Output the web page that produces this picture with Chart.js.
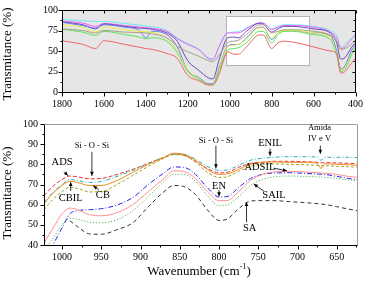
<!DOCTYPE html>
<html>
<head>
<meta charset="utf-8">
<script src="https://cdn.jsdelivr.net/npm/chart.js@4"></script>
<style>
    html, body { margin: 0; padding: 0; background: #fff; }
    #wrap { position: relative; width: 369px; height: 282px; overflow: hidden; }
    canvas { position: absolute; left: 0; }
    #top-chart { top: 0; }
    #bottom-chart { top: 112px; }
</style>
</head>
<body>
<div id="wrap">
    <canvas id="top-chart" width="369" height="112"></canvas>
    <canvas id="bottom-chart" width="369" height="170"></canvas>
</div>
<script>
// ---- Top panel: full spectra 1800-400 cm-1 ----
const topWavenumbers = [1800, 1700, 1640, 1600, 1500, 1430, 1400, 1370, 1300, 1250, 1200, 1150, 1100, 1080, 1050, 1010,
    980, 960, 920, 860, 840, 800, 770, 740, 700, 600, 520, 490, 470, 450, 420, 400];
const topCyan    = [88.5, 87, 86, 86, 83.5, 81.5, 80.5, 79.5, 75, 66, 59, 53, 40, 39, 55, 72, 73, 73.5, 78, 84, 84, 77, 80, 82, 82, 80, 75, 69, 55, 58, 66, 70];
const topMagenta = [86.5, 84, 80, 83.5, 81, 79, 78.5, 77.5, 74, 65, 58, 52, 41, 40, 56, 72, 72, 72, 77, 84, 84, 76, 79, 81, 81, 79, 73, 66, 53, 55, 64, 69];
const topPurple  = [85.5, 82, 77, 83, 80, 78, 77.5, 76.5, 72, 62, 38, 27, 17, 16, 40, 66, 67, 66, 74, 84, 83, 73, 77, 80, 80, 77, 72, 60, 40, 42, 54, 60];
const topBlue    = [85, 81, 78, 82, 79, 75, 66, 74, 70, 55, 26, 18, 10, 10, 30, 56, 58, 58, 66, 79, 79, 64, 72, 75, 75, 72, 69, 50, 28, 32, 50, 58];
const topYellow  = [82, 79, 73, 79, 76, 74, 73.5, 72.5, 66, 50, 27, 17, 9, 9, 28, 55, 57, 58, 64, 78, 78, 66, 72, 75, 75, 72, 66, 47, 26, 30, 46, 55];
const topOlive   = [77, 75, 72, 75, 73, 72.5, 72, 71, 66, 56, 49, 44, 38, 37, 45, 60, 62, 63, 70, 82, 82, 72, 74, 76, 76, 74, 69, 62, 52, 53, 58, 64];
const topGreen   = [76.5, 73, 69, 74, 70, 67, 65, 66, 62, 48, 25, 16, 9, 9, 26, 51, 53, 54, 60, 74, 74, 60, 70, 74, 74, 70, 64, 45, 25, 28, 45, 55];
const topRed     = [62.5, 58, 53, 62.5, 58, 54.5, 53, 52, 47, 41, 20, 14, 8.5, 8.5, 22, 49, 46, 46, 55, 69.5, 69.5, 53, 60, 62, 61, 55, 50, 47, 23, 25, 35, 41];
const topXTicks = [1800, 1600, 1400, 1200, 1000, 800, 600, 400];
const topYTicks = [0, 25, 50, 75, 100];

// ---- Bottom panel: zoom 1023-623 cm-1 ----
const bottomWavenumbers = [1023, 1012, 1000, 990, 980, 965, 950, 930, 910, 890, 870, 858, 845, 830, 815, 800,
    790, 775, 760, 745, 730, 710, 690, 675, 670, 665, 650, 635, 623];
const ads   = [64.5, 69, 72.5, 74.2, 73.8, 72.8, 73, 75, 77.5, 80.5, 83.5, 85, 84.5, 81.5, 78, 75.8, 76, 78.5, 80.5, 81, 81.5, 81.5, 81.3, 81, 80.8, 80.8, 80.7, 80.5, 80.3];
const enil  = [61, 66, 70, 72.4, 72, 71, 71.5, 74, 77, 80.5, 83.5, 85, 85, 82.5, 79, 77, 77.2, 79.5, 82, 83, 83.5, 83.8, 83.8, 83.5, 82, 83.5, 83.5, 83.5, 83.3];
const cbil  = [60.5, 65.5, 69.5, 71.6, 71, 69.5, 69.5, 72, 76, 80, 83.5, 85.5, 85, 82, 77.5, 75, 75.2, 77.5, 80, 81, 81.2, 81, 81, 80.5, 78, 80.3, 80, 79.8, 79.5];
const cb    = [57.5, 62.5, 66.5, 68.6, 68, 66.3, 66.5, 70, 74.5, 79, 83, 84.8, 84.5, 81, 76, 73.5, 73.8, 76.5, 79, 80, 80.2, 80, 79.8, 79.5, 79.3, 79.3, 79, 78.8, 78.6];
const adsil = [41, 48, 55.5, 58.3, 57.5, 55, 54.5, 56, 60, 66.5, 73, 76.8, 76.5, 73, 66.5, 62, 62, 66.5, 72, 75, 76.2, 76.5, 76.2, 75.8, 75.7, 75.6, 75, 74, 73.5];
const en    = [34, 40, 48.5, 55.5, 57, 57.5, 58, 59.8, 63.5, 70, 75.8, 78.7, 78.5, 75, 68.5, 63.8, 64, 68.5, 73, 75, 75.7, 75.8, 75.5, 75.2, 75.1, 75, 74, 73, 72.3];
const sail  = [37, 43, 50, 53.2, 52.8, 51.3, 51, 52.5, 57, 64, 71.5, 75, 75, 71.5, 64.5, 59.5, 59.8, 64, 69.5, 72.5, 73.8, 74.2, 74, 73.8, 73.7, 73.6, 73, 72.3, 72];
const sa    = [null, null, null, 52, 49, 45.5, 45.3, 47.6, 51, 59, 66.5, 69.5, 69, 65, 57.5, 52.2, 52.8, 58, 61.8, 62, 62, 61.5, 61, 60.5, 60.3, 60.1, 59, 57.8, 57];
const bottomXTicks = [1000, 950, 900, 850, 800, 750, 700, 650];
const bottomYTicks = [40, 50, 60, 70, 80, 90, 100];

// Labels with arrows (data coordinates of the bottom panel)
const bottomNotes = [
    { text: 'Si - O - Si', x: 962, y: 89.2, size: 8.5 },
    { text: 'ADS', x: 1000, y: 80.8, size: 10.5 },
    { text: 'CBIL', x: 989, y: 63.3, size: 10.5 },
    { text: 'CB', x: 948, y: 64.5, size: 10.5 },
    { text: 'Si - O - Si', x: 804, y: 91.6, size: 8.5 },
    { text: 'ENIL', x: 735, y: 90.6, size: 10.5 },
    { text: 'Amida', x: 672, y: 97.9, size: 8.5 },
    { text: 'IV e V', x: 672, y: 92.9, size: 8.5 },
    { text: 'ADSIL', x: 748, y: 78.5, size: 10.5 },
    { text: 'EN', x: 800, y: 69.2, size: 10.5 },
    { text: 'SAIL', x: 730, y: 64.8, size: 10.5 },
    { text: 'SA', x: 761, y: 48.2, size: 10.5 }
];
const bottomArrows = [
    { from: [962, 86.2], to: [962, 74.3] },
    { from: [997.5, 76.4], to: [992.5, 74.4] },
    { from: [989, 66.8], to: [989, 71.2] },
    { from: [953, 67.3], to: [960.3, 69.4] },
    { from: [804, 89.3], to: [804, 78] },
    { from: [735, 87.8], to: [735, 84.2] },
    { from: [671, 89.3], to: [671, 85.2] },
    { from: [730.4, 78.1], to: [713.5, 76.8] },
    { from: [800, 67.3], to: [800, 64.2] },
    { from: [743, 66.8], to: [755.8, 70.2] },
    { from: [765, 51.3], to: [765, 61.3] }
];

// highlighted region drawn on the top panel
const zoomBox = { xFrom: 1020, xTo: 622, yFrom: 32.6, yTo: 93 };

Chart.defaults.font.family = "'Liberation Serif', 'Times New Roman', serif";
Chart.defaults.font.size = 10;
Chart.defaults.color = '#000';

function toPoints(xs, ys) {
    return xs.map((x, i) => ({ x: x, y: ys[i] }));
}

function minorValues(majors, min, max) {
    const step = Math.abs(majors[1] - majors[0]) / 2;
    const out = [];
    for (let v = Math.ceil(min / step) * step; v <= max + 1e-9; v += step) {
        if (!majors.includes(v)) out.push(v);
    }
    return out;
}

function line(ctx, x1, y1, x2, y2) {
    ctx.beginPath();
    ctx.moveTo(x1, y1);
    ctx.lineTo(x2, y2);
    ctx.stroke();
}

// draw tick marks by hand so minor ticks can be shorter
function drawTicks(chart, opts) {
    const { ctx, chartArea: a, scales } = chart;
    const xs = scales.x, ys = scales.y;
    ctx.save();
    ctx.lineWidth = 1;
    ctx.strokeStyle = '#000';
    const xMinor = minorValues(opts.xTicks, xs.min, xs.max);
    const yMinor = minorValues(opts.yTicks, ys.min, ys.max);
    const b = Math.round(a.bottom) + 0.5, l = Math.round(a.left) + 0.5;
    const t = Math.round(a.top) + 0.5, r = Math.round(a.right) - 0.5;
    opts.xTicks.forEach(v => {
        const px = Math.round(xs.getPixelForValue(v)) + 0.5;
        line(ctx, px, b, px, b + 4);
        if (opts.mirror) line(ctx, px, t, px, t + 3);
    });
    xMinor.forEach(v => {
        const px = Math.round(xs.getPixelForValue(v)) + 0.5;
        line(ctx, px, b, px, b + 2);
        if (opts.mirror) line(ctx, px, t, px, t + 3);
    });
    opts.yTicks.forEach(v => {
        const py = Math.round(ys.getPixelForValue(v)) + 0.5;
        line(ctx, l, py, l - 4, py);
        if (opts.mirror) line(ctx, r, py, r - 3, py);
    });
    yMinor.forEach(v => {
        const py = Math.round(ys.getPixelForValue(v)) + 0.5;
        line(ctx, l, py, l - 2, py);
        if (opts.mirror) line(ctx, r, py, r - 2, py);
    });
    // frame
    ctx.strokeStyle = opts.frameColor;
    line(ctx, l, t, r, t);
    line(ctx, r, t, r, b);
    ctx.strokeStyle = '#000';
    line(ctx, l, t, l, b);
    line(ctx, l, b, r, b);
    ctx.restore();
}

function drawYTitle(ctx, x, y, size) {
    ctx.save();
    ctx.translate(x, y);
    ctx.rotate(-Math.PI / 2);
    ctx.font = size + "px 'Liberation Serif', serif";
    ctx.fillStyle = '#000';
    ctx.textAlign = 'center';
    ctx.textBaseline = 'middle';
    ctx.fillText('Transmitance (%)', 0, 0);
    ctx.restore();
}

function drawArrow(ctx, x1, y1, x2, y2) {
    line(ctx, x1, y1, x2, y2);
    const ang = Math.atan2(y2 - y1, x2 - x1), L = 4, W = 1.8;
    ctx.beginPath();
    ctx.moveTo(x2, y2);
    ctx.lineTo(x2 - L * Math.cos(ang) + W * Math.sin(ang), y2 - L * Math.sin(ang) - W * Math.cos(ang));
    ctx.lineTo(x2 - L * Math.cos(ang) - W * Math.sin(ang), y2 - L * Math.sin(ang) + W * Math.cos(ang));
    ctx.closePath();
    ctx.fill();
}

function makeSet(xs, ys, color, dash) {
    return {
        data: toPoints(xs, ys),
        borderColor: color,
        borderWidth: 1,
        borderDash: dash || [],
        pointRadius: 0,
        fill: false,
        cubicInterpolationMode: 'monotone'
    };
}

function axisOptions(min, max, ticks, fitProp, fitSize, pad, reverse) {
    return {
        type: 'linear',
        min: min,
        max: max,
        reverse: !!reverse,
        grid: { display: false, drawTicks: false },
        border: { display: false },
        ticks: {
            padding: pad, maxRotation: 0, autoSkip: false, font: { size: 10 },
            callback: (v) => String(v)
        },
        afterBuildTicks: (scale) => { scale.ticks = ticks.map(v => ({ value: v })); },
        afterFit: (scale) => { scale[fitProp] = fitSize; }
    };
}

// ---- Top chart ----
const topPanelPlugin = {
    id: 'topPanel',
    beforeDatasetsDraw(chart) {
        const { ctx, chartArea: a, scales } = chart;
        ctx.save();
        ctx.fillStyle = '#e6e6e6';
        ctx.fillRect(a.left, a.top, a.right - a.left, a.bottom - a.top);
        const x1 = Math.round(scales.x.getPixelForValue(zoomBox.xFrom)) + 0.5;
        const x2 = Math.round(scales.x.getPixelForValue(zoomBox.xTo)) + 0.5;
        const y1 = Math.round(scales.y.getPixelForValue(zoomBox.yTo)) + 0.5;
        const y2 = Math.round(scales.y.getPixelForValue(zoomBox.yFrom)) + 0.5;
        ctx.fillStyle = '#fff';
        ctx.fillRect(x1, y1, x2 - x1, y2 - y1);
        ctx.strokeStyle = '#b4b4b4';
        ctx.lineWidth = 1;
        ctx.strokeRect(x1, y1, x2 - x1, y2 - y1);
        ctx.restore();
    },
    afterDraw(chart) {
        drawTicks(chart, { xTicks: topXTicks, yTicks: topYTicks, mirror: true, frameColor: '#000' });
        drawYTitle(chart.ctx, 8, 54, 13);
    }
};

new Chart(document.getElementById('top-chart'), {
    type: 'line',
    data: {
        datasets: [
            makeSet(topWavenumbers, topOlive, '#a89f86'),
            makeSet(topWavenumbers, topRed, '#f26464'),
            makeSet(topWavenumbers, topGreen, '#5ee05e'),
            makeSet(topWavenumbers, topYellow, '#eeee4a'),
            makeSet(topWavenumbers, topBlue, '#6a78ec'),
            makeSet(topWavenumbers, topPurple, '#6a4cb8'),
            makeSet(topWavenumbers, topMagenta, '#f45cf4'),
            makeSet(topWavenumbers, topCyan, '#6ee8f8')
        ]
    },
    options: {
        responsive: false,
        animation: false,
        devicePixelRatio: 1,
        layout: { padding: { top: 6, right: 11, bottom: 0, left: 0 } },
        plugins: { legend: { display: false }, tooltip: { enabled: false } },
        scales: {
            x: axisOptions(400, 1800, topXTicks, 'height', 20, 6, true),
            y: axisOptions(0, 100, topYTicks, 'width', 62, 4)
        }
    },
    plugins: [topPanelPlugin]
});

// ---- Bottom chart ----
const bottomPanelPlugin = {
    id: 'bottomPanel',
    afterDraw(chart) {
        const { ctx, scales } = chart;
        drawTicks(chart, { xTicks: bottomXTicks, yTicks: bottomYTicks, mirror: false, frameColor: '#9c9c9c' });
        drawYTitle(ctx, 8, 81, 13);

        // x axis title with superscript
        ctx.save();
        ctx.fillStyle = '#000';
        ctx.textBaseline = 'alphabetic';
        ctx.textAlign = 'left';
        const big = "13px 'Liberation Serif', serif", small = "8px 'Liberation Serif', serif";
        ctx.font = big;
        const w1 = ctx.measureText('Wavenumber (cm').width, w3 = ctx.measureText(')').width;
        ctx.font = small;
        const w2 = ctx.measureText('-1').width;
        let x = 199 - (w1 + w2 + w3) / 2;
        const base = 163;
        ctx.font = big; ctx.fillText('Wavenumber (cm', x, base); x += w1;
        ctx.font = small; ctx.fillText('-1', x, base - 6); x += w2;
        ctx.font = big; ctx.fillText(')', x, base);

        // labels and arrows
        ctx.strokeStyle = '#000';
        ctx.lineWidth = 0.8;
        bottomArrows.forEach(a => {
            drawArrow(ctx,
                scales.x.getPixelForValue(a.from[0]), scales.y.getPixelForValue(a.from[1]),
                scales.x.getPixelForValue(a.to[0]), scales.y.getPixelForValue(a.to[1]));
        });
        ctx.textAlign = 'center';
        ctx.textBaseline = 'middle';
        bottomNotes.forEach(n => {
            ctx.font = n.size + "px 'Liberation Serif', serif";
            ctx.fillText(n.text, scales.x.getPixelForValue(n.x), scales.y.getPixelForValue(n.y));
        });
        ctx.restore();
    }
};

new Chart(document.getElementById('bottom-chart'), {
    type: 'line',
    data: {
        datasets: [
            makeSet(bottomWavenumbers, sa, '#333333', [4, 3]),
            makeSet(bottomWavenumbers, sail, '#3aa53a', [1, 2]),
            makeSet(bottomWavenumbers, adsil, '#ff8f8f'),
            makeSet(bottomWavenumbers, en, '#2222e6', [5, 2, 1, 2]),
            makeSet(bottomWavenumbers, cb, '#a3a22c', [3, 2]),
            makeSet(bottomWavenumbers, cbil, '#f08a1c'),
            makeSet(bottomWavenumbers, enil, '#2eaeb0', [4, 2, 1, 2]),
            makeSet(bottomWavenumbers, ads, '#e53535', [4, 2])
        ]
    },
    options: {
        responsive: false,
        animation: false,
        devicePixelRatio: 1,
        layout: { padding: { top: 3.7, right: 11, bottom: 0, left: 0 } },
        plugins: { legend: { display: false }, tooltip: { enabled: false } },
        scales: {
            x: axisOptions(623, 1023, bottomXTicks, 'height', 37, 6, true),
            y: axisOptions(40, 100, bottomYTicks, 'width', 44, 6)
        }
    },
    plugins: [bottomPanelPlugin]
});
</script>
</body>
</html>
